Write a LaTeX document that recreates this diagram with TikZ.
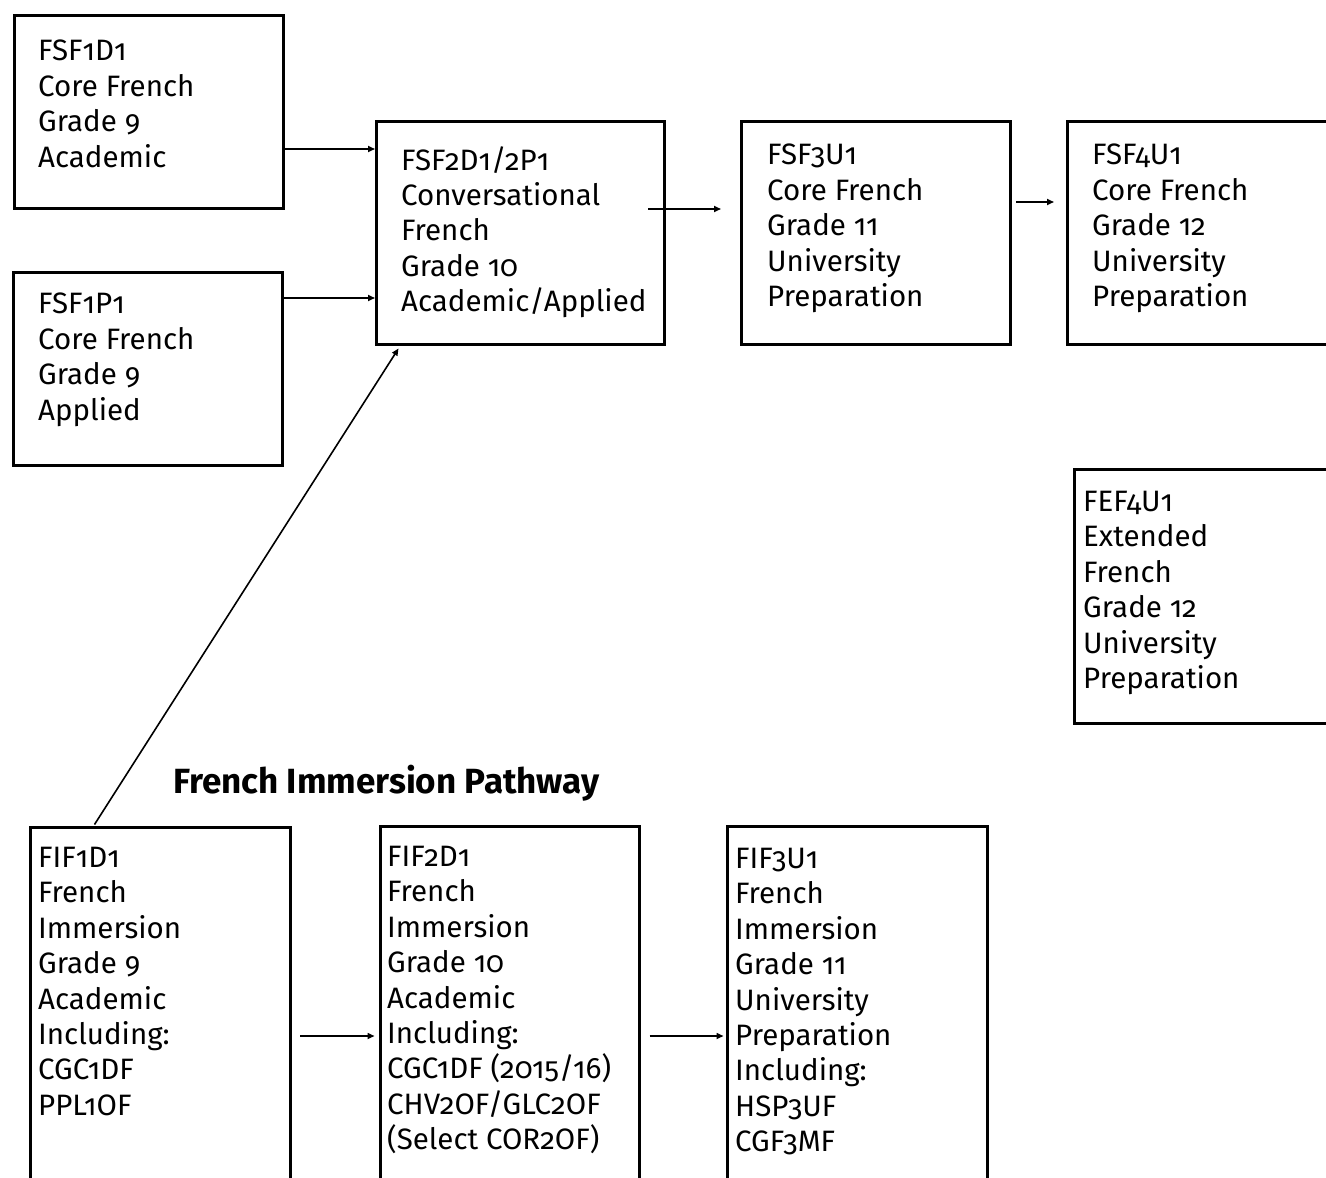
\documentclass[tikz,border=0pt]{standalone}
\usepackage{fontspec}
\setmainfont{Fira Sans}[Numbers=OldStyle]
\usetikzlibrary{arrows.meta,calc}
\begin{document}
\begin{tikzpicture}[x=1pt,y=-1pt,
  box/.style={draw, line width=3pt, rectangle, inner sep=0pt, anchor=north west},
  txt/.style={align=left, inner sep=0pt, anchor=north west, font=\fontsize{29.5}{35.4}\selectfont},
  arr/.style={-{Triangle[length=7pt,width=6pt]}, line width=1.6pt}]
\clip (0,0) rectangle (1326,1178);
\fill[white] (0,0) rectangle (1326,1178);
% boxes
\node[box, minimum width=269pt, minimum height=193pt] (A) at (13,14) {};
\node[box, minimum width=269pt, minimum height=193pt] (B) at (12,271) {};
\node[box, minimum width=288pt, minimum height=223pt] (C) at (375,120) {};
\node[box, minimum width=269pt, minimum height=223pt] (D) at (740,120) {};
\node[box, minimum width=274pt, minimum height=223pt] (E) at (1066,120) {};
\node[box, minimum width=267pt, minimum height=254pt] (F) at (1073,468) {};
\node[box, minimum width=260pt, minimum height=364pt] (G) at (29,826) {};
\node[box, minimum width=259pt, minimum height=365pt] (H) at (379,825) {};
\node[box, minimum width=260pt, minimum height=365pt] (I) at (726,825) {};
% texts
\node[txt] (tA) at (38,40) {FSF1D1\\Core French\\Grade 9\\Academic};
\node[txt] (tB) at (38,293) {FSF1P1\\Core French\\Grade 9\\Applied};
\node[txt] (tC) at (401,146) {FSF2D1/2P1\\Conversational\\French\\Grade 10\\Academic/Applied};
\node[txt] (tD) at (767,144) {FSF3U1\\Core French\\Grade 11\\University\\Preparation};
\node[txt] (tE) at (1092,144) {FSF4U1\\Core French\\Grade 12\\University\\Preparation};
\node[txt] (tF) at (1083,491) {FEF4U1\\Extended\\French\\Grade 12\\University\\Preparation};
\node[txt] (tG) at (38,847) {FIF1D1\\French\\Immersion\\Grade 9\\Academic\\Including:\\CGC1DF\\PPL1OF};
\node[txt] (tH) at (387,846) {FIF2D1\\French\\Immersion\\Grade 10\\Academic\\Including:\\CGC1DF (2015/16)\\CHV2OF/GLC2OF\\(Select COR2OF)};
\node[txt] (tI) at (735,848) {FIF3U1\\French\\Immersion\\Grade 11\\University\\Preparation\\Including:\\HSP3UF\\CGF3MF};
\node[inner sep=0pt, anchor=base west, font=\fontsize{35}{40}\selectfont\bfseries] (title) at (173,793) {French Immersion Pathway};
% arrows
\draw[arr] (A.east |- 0,149) -- (C.west |- 0,149);
\draw[arr] (B.east |- 0,298) -- (C.west |- 0,298);
\draw[arr] ($(C.east |- 0,209)+(-18,0)$) -- ($(D.west |- 0,209)+(-19,0)$);
\draw[arr] ($(D.east |- 0,202)+(4,0)$) -- ($(E.west |- 0,202)+(-12,0)$);
\draw[arr] ($(G.north west)+(65.5,-1.5)$) -- ($(C.south west)+(23.5,2.5)$);
\draw[arr] ($(G.east |- 0,1036)+(8,0)$) -- ($(H.west |- 0,1036)+(-4.5,0)$);
\draw[arr] ($(H.east |- 0,1036)+(8.5,0)$) -- ($(I.west |- 0,1036)+(-2.5,0)$);
\end{tikzpicture}
\end{document}
